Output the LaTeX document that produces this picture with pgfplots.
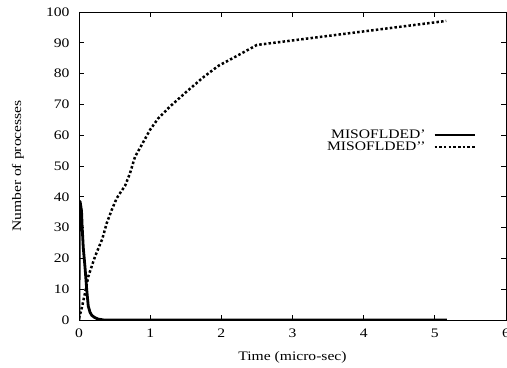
\documentclass[border=0pt]{standalone}
\usepackage{pgfplots}
\pgfplotsset{compat=1.18}
\usepackage{fontspec}
\setmainfont{Liberation Serif}[FakeStretch=1.2]
\begin{document}
\fontsize{13bp}{14bp}\selectfont
\begin{tikzpicture}
\begin{axis}[
  scale only axis,
  width=427bp, height=308bp,
  xmin=0, xmax=6, ymin=0, ymax=100,
  xtick={0,1,2,3,4,5,6},
  ytick={0,10,20,30,40,50,60,70,80,90,100},
  tick align=inside,
  major tick length=5bp,
  axis line style={line width=0.9bp},
  every tick/.style={black, line width=0.7bp},
  /pgf/number format/assume math mode=true,
  ticklabel style={font=\fontsize{13bp}{14bp}\selectfont},
  yticklabel style={xshift=-5bp},
  xticklabel style={yshift=-4bp},
  xlabel={Time (micro-sec)},
  ylabel={Number of processes},
  xlabel style={at={(axis description cs:0.5,-0.1201)}, anchor=center},
  ylabel style={at={(axis description cs:-0.1429,0.5)}, anchor=center},
  label style={font=\fontsize{13bp}{14bp}\selectfont},
  legend cell align=right,
  legend plot pos=right,
  legend style={draw=none, fill=none, at={(axis description cs:0.93,0.581)}, anchor=east,
    inner sep=0pt, row sep=-1.5bp, column sep=6bp, font=\fontsize{13bp}{14bp}\selectfont,
    nodes={inner sep=1.5bp}},
  legend image code/.code={\draw[#1] (0bp,0bp) -- (40bp,0bp);},
]
\addplot[black, line width=2.8bp, line join=round] coordinates {
(0,0) (0.003,28) (0.008,38) (0.015,38.5) (0.025,37) (0.035,35.5) (0.045,30)
(0.06,23.5) (0.085,17) (0.108,10) (0.13,4.5) (0.155,2.5) (0.18,1.5)
(0.22,0.8) (0.27,0.3) (0.35,0) (5.17,0)
};
\addlegendentry{MISOFLDED'}
\addplot[black, line width=2.5bp, dash pattern=on 2.5bp off 2.2bp] coordinates {
(0,0.5) (0.038,3.8) (0.084,8.7) (0.13,14.1) (0.225,20.6) (0.327,26.3)
(0.389,31.4) (0.459,35.7) (0.529,39.5) (0.60,42) (0.646,43.5) (0.716,47.6)
(0.787,53.0) (0.88,56.8) (0.997,61.7) (1.114,65.5) (1.278,69.3) (1.51,74.1)
(1.746,78.8) (1.957,82.5) (2.2,85.5) (2.50,89.3) (5.16,97.1)
};
\addlegendentry{MISOFLDED'{}'}
\end{axis}
\pgfresetboundingbox
\path (current axis.south west) ++(-79bp,-47bp) coordinate (bl);
\path (current axis.north east) ++(1bp,12bp) coordinate (tr);
\useasboundingbox (bl) rectangle (tr);
\end{tikzpicture}
\end{document}
